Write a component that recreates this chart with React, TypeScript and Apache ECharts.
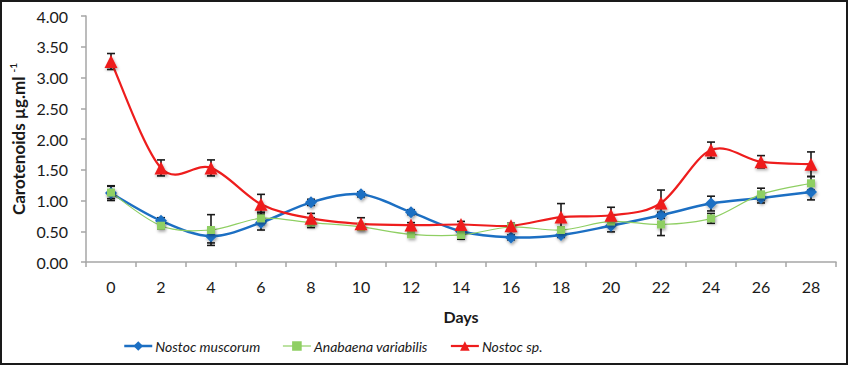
import React, { useEffect, useRef } from "react";
import * as echarts from "echarts";

const days = ["0", "2", "4", "6", "8", "10", "12", "14", "16", "18", "20", "22", "24", "26", "28"];
const nostocMuscorum = [1.12, 0.67, 0.42, 0.64, 0.97, 1.1, 0.81, 0.5, 0.4, 0.44, 0.59, 0.76, 0.95, 1.04, 1.14];
const nostocMuscorumErr = [0.12, 0.05, 0.11, 0.12, 0.05, 0.04, 0.04, 0.06, 0.04, 0.04, 0.1, 0.05, 0.12, 0.08, 0.13];
const anabaenaVariabilis = [1.13, 0.59, 0.52, 0.71, 0.64, 0.57, 0.45, 0.44, 0.57, 0.52, 0.66, 0.61, 0.71, 1.1, 1.28];
const anabaenaVariabilisErr = [0.1, 0.05, 0.25, 0.1, 0.08, 0.05, 0.04, 0.07, 0.04, 0.04, 0.05, 0.18, 0.08, 0.1, 0.11];
const nostocSp = [3.26, 1.53, 1.53, 0.94, 0.71, 0.62, 0.6, 0.61, 0.59, 0.73, 0.76, 0.96, 1.82, 1.63, 1.59];
const nostocSpErr = [0.13, 0.13, 0.13, 0.16, 0.08, 0.1, 0.04, 0.05, 0.04, 0.22, 0.13, 0.21, 0.13, 0.1, 0.2];

const FONT = "Lato, 'Noto Sans', sans-serif";
const BLUE = "#1c6fc3";
const GREEN = "#8fcf63";
const RED = "#ee1d1d";

function errorSeries(name: string, values: number[], errs: number[]) {
  return {
    type: "custom",
    name: name + " err",
    z: 1,
    silent: true,
    data: values.map((v, i) => [i, v, errs[i]]),
    renderItem: (params: any, api: any) => {
      const x = api.value(0);
      const v = api.value(1);
      const e = api.value(2);
      const top = api.coord([x, v + e]);
      const bot = api.coord([x, v - e]);
      const cap = 4;
      const style = { stroke: "#1a1a1a", lineWidth: 1.6 };
      return {
        type: "group",
        children: [
          { type: "line", shape: { x1: top[0], y1: top[1], x2: bot[0], y2: bot[1] }, style },
          { type: "line", shape: { x1: top[0] - cap, y1: top[1], x2: top[0] + cap, y2: top[1] }, style },
          { type: "line", shape: { x1: bot[0] - cap, y1: bot[1], x2: bot[0] + cap, y2: bot[1] }, style },
        ],
      };
    },
  };
}

function curveSeries(name: string, values: number[], color: string, width: number) {
  const n = values.length;
  return {
    type: "custom",
    name: name + " curve",
    z: 2,
    silent: true,
    data: values.map((v, i) => [i, v]),
    renderItem: (params: any, api: any) => {
      const i = params.dataIndex;
      if (i >= n - 1) return null;
      const P = (k: number) => {
        const kk = Math.max(0, Math.min(n - 1, k));
        return api.coord([kk, values[kk]]);
      };
      const p0 = P(i - 1);
      const p1 = P(i);
      const p2 = P(i + 1);
      const p3 = P(i + 2);
      const t = 6;
      return {
        type: "bezierCurve",
        shape: {
          x1: p1[0],
          y1: p1[1],
          x2: p2[0],
          y2: p2[1],
          cpx1: p1[0] + (p2[0] - p0[0]) / t,
          cpy1: p1[1] + (p2[1] - p0[1]) / t,
          cpx2: p2[0] - (p3[0] - p1[0]) / t,
          cpy2: p2[1] - (p3[1] - p1[1]) / t,
        },
        style: { stroke: color, lineWidth: width, fill: null, lineCap: "round" },
      };
    },
  };
}

export default function App() {
  const ref = useRef<HTMLDivElement>(null);
  useEffect(() => {
    if (!ref.current) return;
    const chart = echarts.init(ref.current, null, { renderer: "svg" });
    const shadow = { shadowBlur: 3, shadowColor: "rgba(0,0,0,0.35)", shadowOffsetX: 1, shadowOffsetY: 2 };
    const markerSeries = (name: string, data: number[], symbol: string, size: number, color: string, lw: number) => ({
      name,
      type: "line",
      z: 2,
      data,
      symbol,
      symbolSize: size,
      color,
      lineStyle: { color, width: lw, opacity: 0 },
      itemStyle: { color, ...shadow },
    });
    chart.setOption({
      animation: false,
      backgroundColor: "#ffffff",
      grid: { left: 86, right: 12, top: 16, bottom: 103, containLabel: false },
      legend: {
        left: 118,
        top: 334,
        itemWidth: 28,
        itemHeight: 12,
        itemGap: 22,
        data: [
          { name: "Nostoc muscorum", lineStyle: { opacity: 1, width: 2.5 } },
          { name: "Anabaena variabilis", lineStyle: { opacity: 1, width: 1.2 } },
          { name: "Nostoc sp.", lineStyle: { opacity: 1, width: 2.2 } },
        ],
        textStyle: { fontFamily: FONT, fontStyle: "italic", fontSize: 14, color: "#1a1a1a", padding: [0, 0, 0, -2] },
      },
      xAxis: {
        type: "category",
        data: days,
        boundaryGap: true,
        name: "Days",
        nameLocation: "middle",
        nameGap: 46,
        nameTextStyle: { fontFamily: FONT, fontWeight: "bold", fontSize: 16, color: "#1a1a1a" },
        axisLine: { lineStyle: { color: "#a6a6a6", width: 1.5 } },
        axisTick: { show: true, interval: 0, length: 5, lineStyle: { color: "#a6a6a6", width: 1.5 } },
        axisLabel: { fontFamily: FONT, fontSize: 16, color: "#1a1a1a", margin: 16, interval: 0 },
        splitLine: { show: false },
      },
      yAxis: {
        type: "value",
        min: 0,
        max: 4,
        interval: 0.5,
        axisLine: { show: true, lineStyle: { color: "#a6a6a6", width: 1.5 } },
        axisTick: { show: true, length: 5, lineStyle: { color: "#a6a6a6", width: 1.5 } },
        axisLabel: {
          fontFamily: FONT,
          fontSize: 16,
          color: "#1a1a1a",
          margin: 18,
          formatter: (v: number) => v.toFixed(2),
        },
        splitLine: { show: false },
      },
      graphic: [
        {
          type: "text",
          x: 18,
          y: 139,
          rotation: Math.PI / 2,
          style: {
            text: "{a|Carotenoids µg.ml }{b|-1}",
            align: "center",
            verticalAlign: "middle",
            fill: "#1a1a1a",
            rich: {
              a: { fontFamily: FONT, fontWeight: "bold", fontSize: 17, lineHeight: 20, fill: "#1a1a1a" },
              b: { fontFamily: FONT, fontWeight: "bold", fontSize: 10, lineHeight: 20, verticalAlign: "top", fill: "#1a1a1a" },
            },
          },
        },
        {
          type: "rect",
          shape: { x: 1, y: 1, width: 846, height: 363 },
          style: { fill: "none", stroke: "#1a1a1a", lineWidth: 2 },
          silent: true,
        },
      ],
      series: [
        errorSeries("Nostoc muscorum", nostocMuscorum, nostocMuscorumErr),
        errorSeries("Anabaena variabilis", anabaenaVariabilis, anabaenaVariabilisErr),
        errorSeries("Nostoc sp.", nostocSp, nostocSpErr),
        curveSeries("Nostoc muscorum", nostocMuscorum, BLUE, 2.5),
        markerSeries("Nostoc muscorum", nostocMuscorum, "diamond", 12, BLUE, 2.5),
        curveSeries("Anabaena variabilis", anabaenaVariabilis, GREEN, 1.2),
        markerSeries("Anabaena variabilis", anabaenaVariabilis, "rect", 8, GREEN, 1.2),
        curveSeries("Nostoc sp.", nostocSp, RED, 2.2),
        markerSeries("Nostoc sp.", nostocSp, "triangle", 13, RED, 2.2),
      ],
    });
    return () => chart.dispose();
  }, []);
  return (
    <div style={{ position: "absolute", left: 0, top: 0 }}>
      <div ref={ref} style={{ width: 848, height: 365 }} />
    </div>
  );
}
